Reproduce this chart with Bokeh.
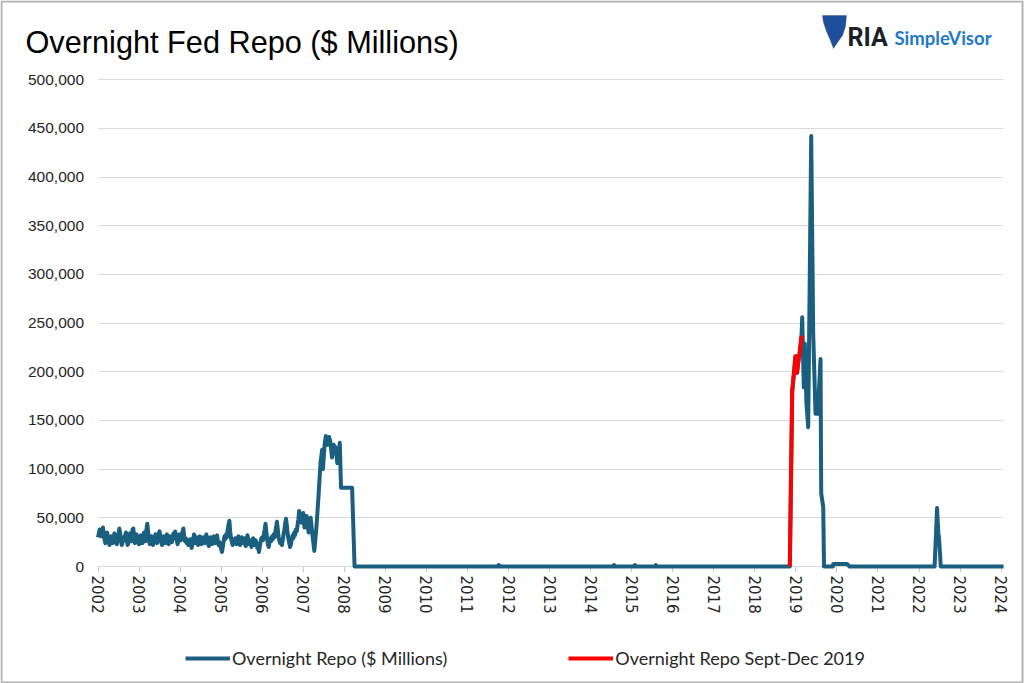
from bokeh.plotting import figure
from bokeh.models import (Range1d, FixedTicker, NumeralTickFormatter, Legend, LegendItem, Label,
                          PolyAnnotation, BoxAnnotation)
from bokeh.embed import file_html
from bokeh.resources import INLINE

# ---------------- data (values in $ millions) ----------------
# weekly-ish readings 2002.00 .. 2006.90, one every 0.02 year (in thousands)
early_start = 2002.0
early_step = 0.02
early_k = [
    # 2002
    30, 34, 38, 35, 31, 36, 40, 33, 27, 24, 29, 35, 31, 25, 22, 27, 31, 28, 24, 30,
    34, 29, 25, 23, 28, 33, 39, 34, 26, 22, 25, 30, 27, 32, 35, 28, 22, 24, 29, 34,
    31, 26, 38, 39, 30, 24, 27, 33, 29, 25,
    # 2003
    23, 28, 32, 27, 24, 30, 35, 29, 26, 38, 44, 36, 28, 23, 27, 31, 26, 22, 25, 30,
    33, 28, 24, 29, 34, 36, 30, 25, 22, 27, 31, 28, 24, 29, 33, 27, 23, 26, 31, 28,
    25, 30, 34, 29, 36, 31, 26, 23, 28, 33,
    # 2004
    30, 27, 33, 36, 39, 31, 26, 29, 24, 27, 22, 25, 28, 24, 19, 23, 29, 33, 27, 24,
    30, 26, 22, 28, 31, 25, 23, 27, 30, 26, 24, 29, 33, 28, 24, 21, 26, 30, 27, 23,
    28, 31, 27, 24, 29, 32, 26, 22, 25, 21,
    # 2005
    18, 15, 20, 26, 31, 28, 33, 30, 38, 43, 47, 36, 29, 25, 22, 27, 24, 29, 26, 23,
    28, 31, 25, 22, 27, 30, 26, 24, 29, 25, 21, 26, 32, 28, 23, 27, 24, 20, 25, 29,
    26, 22, 27, 24, 19, 22, 15, 20, 26, 29,
    # 2006
    30, 27, 33, 38, 44, 36, 28, 22, 20, 25, 29, 26, 31, 28, 33, 30, 36, 41, 46, 38,
    30, 26, 24, 28, 22, 27, 33, 38, 44, 49, 42, 34, 28, 24, 20, 23, 28, 32, 29, 35,
    32, 38, 36, 42, 48, 57,
]

late_x = [2006.96, 2007.00, 2007.03, 2007.08, 2007.13, 2007.18, 2007.23, 2007.27, 2007.32, 2007.37,
          2007.42, 2007.46, 2007.48, 2007.52, 2007.55, 2007.59, 2007.63, 2007.66, 2007.70, 2007.74,
          2007.79, 2007.83, 2007.86, 2007.89, 2007.92, 2008.19, 2008.25,
          2011.74, 2011.76, 2011.78, 2014.55, 2014.57, 2014.59, 2015.06, 2015.08, 2015.10,
          2015.57, 2015.59, 2015.61,
          2018.853, 2018.911, 2018.950, 2018.991, 2019.028, 2019.072, 2019.101, 2019.138,
          2019.155, 2019.194, 2019.218, 2019.259, 2019.301, 2019.374, 2019.423, 2019.479,
          2019.535, 2019.601, 2019.618, 2019.667, 2019.686, 2019.904, 2019.910, 2020.25, 2020.31,
          2022.38, 2022.44, 2022.47, 2022.49, 2022.53, 2024.06]
late_k = [45, 55, 40, 52, 35, 50, 30, 16, 40, 71,
          106, 120, 100, 125, 134, 125, 133, 128, 112, 125,
          122, 106, 115, 127, 81, 81, 0,
          0, 1.5, 0, 0, 1.5, 0, 0, 1.5, 0,
          0, 1.5, 0,
          0, 180, 197, 216, 199, 214, 222, 237,
          256, 184, 229, 167, 143, 442, 239, 157,
          157, 213, 75, 61, 0, 0, 2.5, 2.5, 0,
          0, 60, 35, 28, 0, 0]

# Sept-Dec 2019 highlighted segment
red_x = [2018.853, 2018.911, 2018.950, 2018.991, 2019.028, 2019.072, 2019.101, 2019.138]
red_k = [0, 180, 197, 216, 199, 214, 222, 237]

years = list(range(2002, 2025))
year_labels = [str(y) for y in years]
y_ticks = list(range(0, 500001, 50000))

series_names = ["Overnight Repo ($ Millions)", "Overnight Repo Sept-Dec 2019"]
title_text = "Overnight Fed Repo ($ Millions)"

# ---------------- build series ----------------
blue_x = [early_start + early_step * i for i in range(len(early_k))] + late_x
blue_y = [v * 1000 for v in early_k] + [v * 1000 for v in late_k]
red_y = [v * 1000 for v in red_k]

BLUE = "#1A5F80"
RED = "#FF0000"
TXT = "#262626"

W, H = 1024, 683
# plot area geometry (pixels): 2002 at x=97.5, 41.05 px per year; 0 at y=566, 1027 units per px
PX_YR = 41.05
X0_PX = 97.5
UNITS_PX = 1027.0
Y0_PX = 566.0
x_start = years[0] - X0_PX / PX_YR
x_end = years[0] + (W - X0_PX) / PX_YR
y_start = -(H - Y0_PX) * UNITS_PX
y_end = Y0_PX * UNITS_PX

p = figure(width=W, height=H, output_backend="svg", toolbar_location=None, title=None,
           x_range=Range1d(x_start, x_end), y_range=Range1d(y_start, y_end),
           min_border=0, min_border_left=0, min_border_right=0, min_border_top=0, min_border_bottom=0)
p.outline_line_color = None

r_blue = p.line(blue_x, blue_y, line_color=BLUE, line_width=4, line_join="round")
r_red = p.line(red_x, red_y, line_color=RED, line_width=4, line_join="round")

# grid
p.xgrid.grid_line_color = None
p.ygrid.ticker = FixedTicker(ticks=y_ticks)
p.ygrid.grid_line_color = "#D9D9D9"
p.ygrid.grid_line_width = 1
p.ygrid.bounds = (y_ticks[0], y_ticks[-1])
p.ygrid.cross_bounds = (years[0], years[-1] + 0.06)

# y axis
p.yaxis.fixed_location = years[0]
p.yaxis.bounds = (y_ticks[0], y_ticks[-1])
p.yaxis.ticker = FixedTicker(ticks=y_ticks)
p.yaxis.formatter = NumeralTickFormatter(format="0,0")
p.yaxis.axis_line_color = None
p.yaxis.major_tick_line_color = None
p.yaxis.minor_tick_line_color = None
p.yaxis.major_tick_out = 0
p.yaxis.major_label_standoff = 14
p.yaxis.major_label_text_font = "Liberation Sans"
p.yaxis.major_label_text_font_size = "15.5px"
p.yaxis.major_label_text_color = TXT

# x axis
p.xaxis.fixed_location = 0
p.xaxis.bounds = (years[0], years[-1] + 0.06)
p.xaxis.ticker = FixedTicker(ticks=years)
p.xaxis.major_label_overrides = {y: l for y, l in zip(years, year_labels)}
p.xaxis.major_label_orientation = "vertical"
p.xaxis.axis_line_color = "#C8C8C8"
p.xaxis.major_tick_line_color = "#C8C8C8"
p.xaxis.minor_tick_line_color = None
p.xaxis.major_tick_out = 6
p.xaxis.major_tick_in = 0
p.xaxis.major_label_standoff = 3
p.xaxis.major_label_text_font = "DejaVu Sans"
p.xaxis.major_label_text_font_size = "15px"
p.xaxis.major_label_text_color = TXT
p.xaxis.level = "underlay"

# legend (bottom-left corner given in pixels from the plot's bottom-left)
legend = Legend(items=[LegendItem(label=series_names[0], renderers=[r_blue]),
                       LegendItem(label=series_names[1], renderers=[r_red])],
                orientation="horizontal", location=(185, 14),
                glyph_width=45, glyph_height=18, label_standoff=2, spacing=121,
                padding=0, margin=0, border_line_color=None, background_fill_alpha=0,
                label_text_font="Lato", label_text_font_size="18px", label_text_color=TXT)
p.add_layout(legend)

# title
p.add_layout(Label(x=25, y=H - 42, x_units="screen", y_units="screen", text=title_text,
                   text_font="Liberation Sans", text_font_size="30.7px", text_color="#000000",
                   text_baseline="alphabetic"))

# logo
p.add_layout(PolyAnnotation(xs=[822, 846, 845, 842, 837, 833, 830, 826, 823],
                            ys=[H - 15, H - 15, H - 26, H - 35, H - 42, H - 48, H - 40, H - 31, H - 22],
                            xs_units="screen", ys_units="screen",
                            fill_color="#1F4E9A", fill_alpha=1, line_color="#17306A", line_width=1))
p.add_layout(Label(x=847, y=H - 37, x_units="screen", y_units="screen", text="RIA",
                   text_font="Roboto", text_font_style="bold", text_font_size="25px",
                   text_color="#1B1F2A", text_baseline="alphabetic"))
p.add_layout(Label(x=894, y=H - 37, x_units="screen", y_units="screen", text="SimpleVisor",
                   text_font="Lato", text_font_style="bold", text_font_size="18.5px",
                   text_color="#1F78C8", text_baseline="alphabetic"))

# frame border around the whole chart
p.add_layout(BoxAnnotation(left=1, right=W - 2, bottom=1, top=H - 1,
                           left_units="screen", right_units="screen",
                           bottom_units="screen", top_units="screen",
                           fill_alpha=0, line_color="#000000", line_width=2))

open("out.html", "w").write(file_html(p, INLINE))
